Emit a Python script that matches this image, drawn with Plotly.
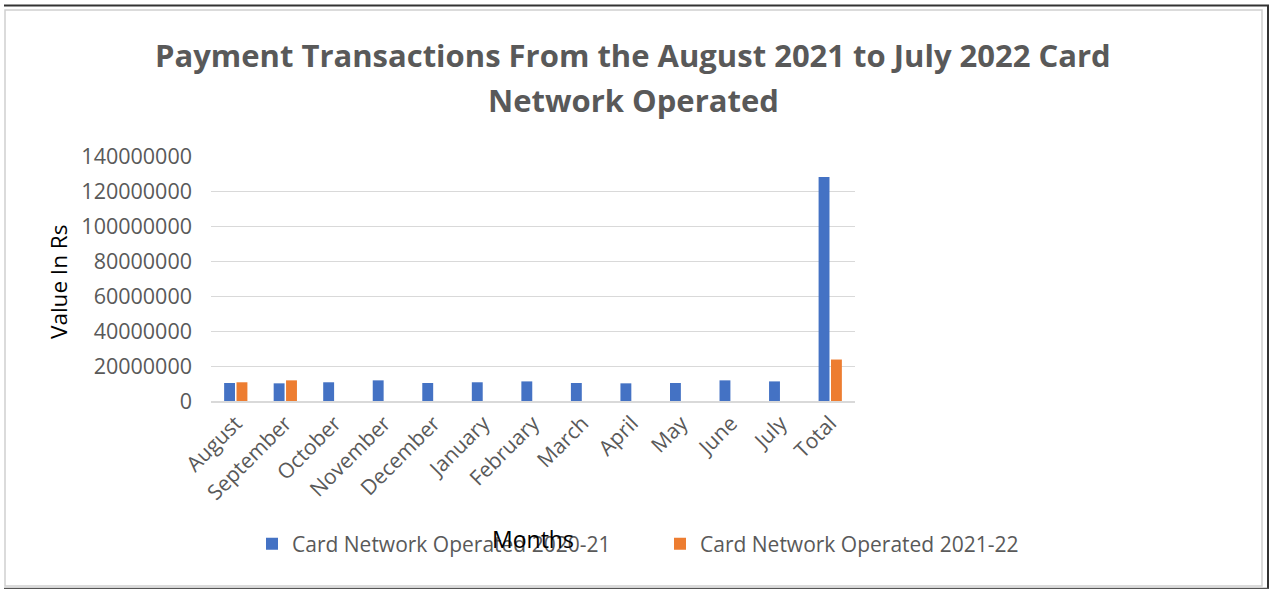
import plotly.graph_objects as go

months = ["August", "September", "October", "November", "December", "January",
          "February", "March", "April", "May", "June", "July", "Total"]
series_2020_21 = [10300000, 10100000, 10700000, 11800000, 10300000, 10700000,
                  11200000, 10300000, 10100000, 10300000, 11800000, 11200000, 128000000]
series_2021_22 = [10700000, 11800000, None, None, None, None,
                  None, None, None, None, None, None, 23700000]
y_ticks = [0, 20000000, 40000000, 60000000, 80000000, 100000000, 120000000, 140000000]

W, H = 1272, 589
L, R, T, B = 211, 855, 156, 401
pw, ph = R - L, B - T

def px(x):
    return (x - L) / pw

def py(y):
    return (B - y) / ph

FONT = "Open Sans"
GRAY = "#595959"

fig = go.Figure()
fig.add_trace(go.Bar(x=months, y=series_2020_21, name="Card Network Operated 2020-21",
                     marker=dict(color="#4472C4", line=dict(width=0)), legend="legend"))
fig.add_trace(go.Bar(x=months, y=series_2021_22, name="Card Network Operated 2021-22",
                     marker=dict(color="#ED7D31", line=dict(width=0)), legend="legend2"))

leg_common = dict(orientation="h", y=py(544), yanchor="middle", xanchor="left",
                  font=dict(size=21, color=GRAY), itemwidth=30, bgcolor="rgba(0,0,0,0)")

fig.update_layout(
    width=W, height=H,
    margin=dict(l=L, r=W - R, t=T, b=H - B),
    paper_bgcolor="white", plot_bgcolor="white",
    barmode="group", bargap=0.5, bargroupgap=0.12,
    font=dict(family=FONT, color=GRAY, size=21),
    showlegend=True,
    legend=dict(x=px(252), **leg_common),
    legend2=dict(x=px(660), **leg_common),
    xaxis=dict(tickangle=-45, showgrid=False, showline=True, linecolor="#d9d9d9",
               linewidth=1.5, ticks="", tickfont=dict(size=21, color=GRAY)),
    yaxis=dict(range=[0, 140000000], tickvals=y_ticks, tickformat="d",
               showgrid=True, gridcolor="#d9d9d9", gridwidth=1.2, zeroline=False,
               ticks="", ticklabelstandoff=18, tickfont=dict(size=21.5, color=GRAY)),
)

annotations = [
    dict(text="<b>Payment Transactions From the August 2021 to July 2022 Card</b>",
         x=px(633), y=py(55), font=dict(size=31, color=GRAY)),
    dict(text="<b>Network Operated</b>", x=px(633), y=py(100), font=dict(size=31, color=GRAY)),
    dict(text="Value In Rs", x=px(58), y=py(282), textangle=-90, font=dict(size=22.5, color="#000000")),
    dict(text="Months", x=px(533), y=py(539), font=dict(size=23, color="#000000")),
]
for a in annotations:
    fig.add_annotation(xref="paper", yref="paper", showarrow=False,
                       xanchor="center", yanchor="middle", **a)

# frame
fig.add_shape(type="rect", xref="paper", yref="paper", x0=px(5), x1=px(1262), y0=py(586), y1=py(10),
              line=dict(color="#d0d0d0", width=1.5), layer="below")
fig.add_shape(type="line", xref="paper", yref="paper", x0=px(4), x1=px(1269), y0=py(5.5), y1=py(5.5),
              line=dict(color="#333333", width=2))
fig.add_shape(type="line", xref="paper", yref="paper", x0=px(1268), x1=px(1268), y0=py(5), y1=py(589),
              line=dict(color="#333333", width=2))
fig.add_shape(type="line", xref="paper", yref="paper", x0=px(4), x1=px(1269), y0=py(588.5), y1=py(588.5),
              line=dict(color="#555555", width=1.5))

fig.write_html("out.html")
